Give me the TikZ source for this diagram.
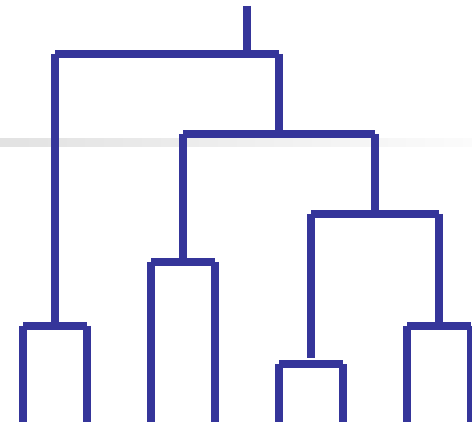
\documentclass[tikz,border=0pt]{standalone}
\definecolor{dblue}{RGB}{53,53,154}
\definecolor{bandL}{RGB}{226,226,226}
\definecolor{bandR}{RGB}{251,251,251}
\begin{document}
\begin{tikzpicture}[x=1pt,y=-1pt,
  link/.style={draw=dblue,line width=8pt,line cap=butt}]
\useasboundingbox (0,0) rectangle (472,425);
\fill[white] (0,0) rectangle (472,425);
\shade[left color=bandL,right color=bandR] (0,139) rectangle (472,147);
% junction coordinates
\coordinate (top) at (247,6);
\coordinate (r) at (247,54);
\coordinate (rL) at (55,54);
\coordinate (rR) at (279,54);
\coordinate (a) at (279,134);
\coordinate (aL) at (183,134);
\coordinate (aR) at (375,134);
\coordinate (b) at (375,214);
\coordinate (bL) at (311,214);
\coordinate (bR) at (439,214);
\coordinate (c1) at (55,326);
\coordinate (c1L) at (23,326);
\coordinate (c1R) at (87,326);
\coordinate (c2) at (183,262);
\coordinate (c2L) at (151,262);
\coordinate (c2R) at (215,262);
\coordinate (c3t) at (311,358);
\coordinate (c3L) at (279,364);
\coordinate (c3R) at (343,364);
\coordinate (c4) at (439,326);
\coordinate (c4L) at (407,326);
\coordinate (c4R) at (471,326);
\coordinate (l1) at (23,422);
\coordinate (l2) at (87,422);
\coordinate (l3) at (151,422);
\coordinate (l4) at (215,422);
\coordinate (l5) at (279,422);
\coordinate (l6) at (343,422);
\coordinate (l7) at (407,422);
\coordinate (l8) at (471,422);
% root
\draw[link] (top) -- (r);
\draw[link] (rL) -- (rR);
\draw[link] (rL) -- (c1);
\draw[link] (rR) -- (a);
% second level
\draw[link] (aL) -- (aR);
\draw[link] (aL) -- (c2);
\draw[link] (aR) -- (b);
% third level
\draw[link] (bL) -- (bR);
\draw[link] (bL) -- (c3t);
\draw[link] (bR) -- (c4);
% leaf clusters
\draw[link] (c1L) -- (c1R);
\draw[link] (c1L) -- (l1);
\draw[link] (c1R) -- (l2);
\draw[link] (c2L) -- (c2R);
\draw[link] (c2L) -- (l3);
\draw[link] (c2R) -- (l4);
\draw[link] (c3L) -- (c3R);
\draw[link] (c3L) -- (l5);
\draw[link] (c3R) -- (l6);
\draw[link] (c4L) -- (c4R);
\draw[link] (c4L) -- (l7);
\draw[link] (c4R) -- (l8);
\end{tikzpicture}
\end{document}
